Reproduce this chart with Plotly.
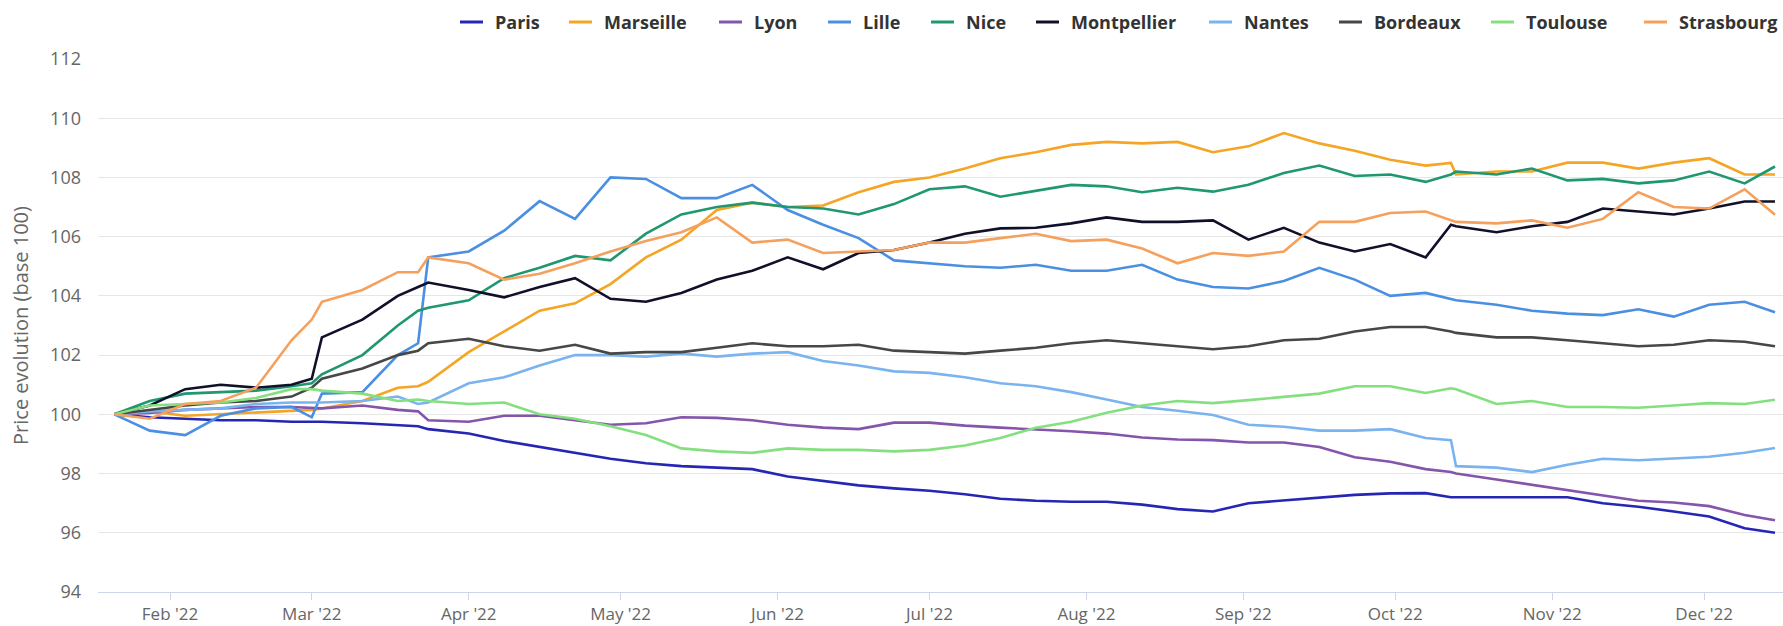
import plotly.graph_objects as go

dates = [
    "2022-01-21", "2022-01-28",
    "2022-02-04", "2022-02-11", "2022-02-18", "2022-02-25",
    "2022-03-01", "2022-03-03", "2022-03-11", "2022-03-18", "2022-03-22", "2022-03-24",
    "2022-04-01", "2022-04-08", "2022-04-15", "2022-04-22", "2022-04-29",
    "2022-05-06", "2022-05-13", "2022-05-20", "2022-05-27",
    "2022-06-03", "2022-06-10", "2022-06-17", "2022-06-24",
    "2022-07-01", "2022-07-08", "2022-07-15", "2022-07-22", "2022-07-29",
    "2022-08-05", "2022-08-12", "2022-08-19", "2022-08-26",
    "2022-09-02", "2022-09-09", "2022-09-16", "2022-09-23", "2022-09-30",
    "2022-10-07", "2022-10-12", "2022-10-13", "2022-10-21", "2022-10-28",
    "2022-11-04", "2022-11-11", "2022-11-18", "2022-11-25",
    "2022-12-02", "2022-12-09", "2022-12-15",
]

paris = [100.0, 99.9, 99.85, 99.8, 99.8, 99.75,
         99.75, 99.75, 99.7, 99.65, 99.6, 99.5,
         99.35, 99.1, 98.9, 98.7, 98.5, 98.35, 98.25, 98.2, 98.15,
         97.9, 97.75, 97.6, 97.5, 97.42, 97.3, 97.15, 97.08, 97.05,
         97.05, 96.95, 96.8, 96.72, 97.0, 97.1, 97.2, 97.28, 97.33,
         97.34, 97.2, 97.2, 97.22, 97.22, 97.2, 97.0, 96.88, 96.72, 96.55, 96.15, 96.0]
marseille = [100.0, 100.1, 99.95, 100.0, 100.05, 100.1,
             100.15, 100.2, 100.45, 100.9, 100.95, 101.1,
             102.1, 102.8, 103.5, 103.75, 104.4, 105.3, 105.9, 106.9, 107.15,
             107.0, 107.05, 107.5, 107.85, 108.0, 108.3, 108.65, 108.85, 109.1,
             109.2, 109.15, 109.2, 108.85, 109.05, 109.5, 109.15, 108.9, 108.6,
             108.4, 108.49, 108.1, 108.2, 108.2, 108.5, 108.5, 108.3, 108.5, 108.65, 108.1, 108.1]
lyon = [100.0, 100.05, 100.15, 100.2, 100.25, 100.25,
        100.2, 100.2, 100.3, 100.15, 100.1, 99.8,
        99.75, 99.95, 99.95, 99.8, 99.65, 99.7, 99.9, 99.88, 99.8,
        99.65, 99.55, 99.5, 99.72, 99.72, 99.62, 99.55, 99.5, 99.43,
        99.35, 99.22, 99.15, 99.13, 99.05, 99.05, 98.9, 98.55, 98.4,
        98.15, 98.05, 98.0, 97.8, 97.62, 97.45, 97.25, 97.08, 97.02, 96.9, 96.6, 96.42]
lille = [100.0, 99.45, 99.3, 99.95, 100.2, 100.25,
         99.9, 100.7, 100.75, 102.0, 102.4, 105.3,
         105.5, 106.2, 107.2, 106.6, 108.0, 107.95, 107.3, 107.3, 107.75,
         106.9, 106.4, 105.95, 105.2, 105.1, 105.0, 104.95, 105.05, 104.85,
         104.85, 105.05, 104.55, 104.3, 104.25, 104.5, 104.95, 104.55, 104.0,
         104.1, 103.9, 103.85, 103.7, 103.5, 103.4, 103.35, 103.55, 103.3, 103.7, 103.8, 103.45]
nice = [100.0, 100.45, 100.7, 100.75, 100.8, 100.95,
        101.05, 101.35, 102.0, 103.0, 103.5, 103.6,
        103.85, 104.6, 104.95, 105.35, 105.2, 106.1, 106.75, 107.0, 107.15,
        107.0, 106.95, 106.75, 107.1, 107.6, 107.7, 107.35, 107.55, 107.75,
        107.7, 107.5, 107.65, 107.52, 107.75, 108.15, 108.4, 108.05, 108.1,
        107.85, 108.1, 108.2, 108.1, 108.3, 107.9, 107.95, 107.8, 107.9, 108.2, 107.8, 108.37]
montpellier = [100.0, 100.3, 100.85, 101.0, 100.9, 101.0,
               101.2, 102.6, 103.2, 104.0, 104.3, 104.45,
               104.2, 103.95, 104.3, 104.6, 103.9, 103.8, 104.1, 104.55, 104.85,
               105.3, 104.9, 105.45, 105.55, 105.8, 106.1, 106.28, 106.3, 106.45,
               106.65, 106.5, 106.5, 106.55, 105.9, 106.3, 105.8, 105.5, 105.75,
               105.3, 106.4, 106.35, 106.15, 106.35, 106.5, 106.95, 106.85, 106.75, 106.95, 107.19, 107.19]
nantes = [100.0, 100.1, 100.15, 100.2, 100.35, 100.4,
          100.4, 100.4, 100.45, 100.6, 100.35, 100.4,
          101.05, 101.25, 101.65, 102.0, 102.0, 101.95, 102.05, 101.95, 102.05,
          102.1, 101.8, 101.65, 101.45, 101.4, 101.25, 101.05, 100.95, 100.75,
          100.5, 100.25, 100.12, 99.98, 99.65, 99.58, 99.45, 99.45, 99.5,
          99.2, 99.13, 98.25, 98.2, 98.05, 98.3, 98.5, 98.45, 98.5, 98.57, 98.7, 98.86]
bordeaux = [100.0, 100.15, 100.3, 100.4, 100.45, 100.6,
            100.9, 101.2, 101.55, 102.0, 102.15, 102.4,
            102.55, 102.3, 102.15, 102.35, 102.05, 102.1, 102.1, 102.25, 102.4,
            102.3, 102.3, 102.35, 102.15, 102.1, 102.05, 102.15, 102.25, 102.4,
            102.5, 102.4, 102.3, 102.2, 102.3, 102.5, 102.55, 102.8, 102.95,
            102.95, 102.8, 102.75, 102.6, 102.6, 102.5, 102.4, 102.3, 102.35, 102.5, 102.45, 102.3]
toulouse = [100.0, 100.3, 100.35, 100.4, 100.55, 100.85,
            100.85, 100.8, 100.7, 100.45, 100.5, 100.45,
            100.35, 100.4, 100.0, 99.85, 99.6, 99.3, 98.85, 98.75, 98.7,
            98.85, 98.8, 98.8, 98.75, 98.8, 98.95, 99.2, 99.55, 99.75,
            100.05, 100.3, 100.45, 100.38, 100.48, 100.6, 100.7, 100.95, 100.95,
            100.72, 100.88, 100.85, 100.35, 100.45, 100.25, 100.25, 100.22, 100.3, 100.38, 100.35, 100.49]
strasbourg = [100.0, 99.85, 100.35, 100.45, 100.9, 102.5,
              103.2, 103.8, 104.2, 104.8, 104.8, 105.3,
              105.1, 104.55, 104.75, 105.1, 105.5, 105.85, 106.15, 106.65, 105.8,
              105.9, 105.45, 105.5, 105.55, 105.8, 105.8, 105.95, 106.1, 105.85,
              105.9, 105.6, 105.1, 105.45, 105.35, 105.5, 106.5, 106.5, 106.8,
              106.85, 106.55, 106.5, 106.45, 106.55, 106.3, 106.6, 107.5, 107.0, 106.95, 107.6, 106.74]

city_names = ["Paris", "Marseille", "Lyon", "Lille", "Nice", "Montpellier",
              "Nantes", "Bordeaux", "Toulouse", "Strasbourg"]
city_values = [paris, marseille, lyon, lille, nice, montpellier,
               nantes, bordeaux, toulouse, strasbourg]
city_colors = ["#2626b4", "#f5a524", "#8455ab", "#4b8fe2", "#1f9770", "#10102a",
               "#7ab3ee", "#474747", "#84e07f", "#f5a05c"]

tick_dates = ["2022-02-01", "2022-03-01", "2022-04-01", "2022-05-01", "2022-06-01",
              "2022-07-01", "2022-08-01", "2022-09-01", "2022-10-01", "2022-11-01",
              "2022-12-01"]
y_ticks = [94, 96, 98, 100, 102, 104, 106, 108, 110, 112]

# layout geometry (pixels)
W, H = 1783, 626
ML, MR, MT, MB = 98, 0, 59, 34
PW, PH = W - ML - MR, H - MT - MB
legend_symbol_px = [460, 569, 719, 828, 931, 1036, 1209, 1339, 1491, 1644]
legend_y_px = 22

FONT = "Open Sans"


def px_to_paper_x(px):
    return (px - ML) / PW


def px_to_paper_y(py):
    return (H - MB - py) / PH


fig = go.Figure()
for name, vals, col in zip(city_names, city_values, city_colors):
    fig.add_trace(go.Scatter(
        x=dates, y=vals, name=name, mode="lines",
        line=dict(color=col, width=2.6), showlegend=False,
    ))

# legend drawn as line samples + bold labels
shapes, annots = [], []
ly = px_to_paper_y(legend_y_px)
for name, col, sx in zip(city_names, city_colors, legend_symbol_px):
    shapes.append(dict(type="line", xref="paper", yref="paper",
                       x0=px_to_paper_x(sx), x1=px_to_paper_x(sx + 23),
                       y0=ly, y1=ly, line=dict(color=col, width=3)))
    annots.append(dict(xref="paper", yref="paper", x=px_to_paper_x(sx + 33), y=ly,
                       xanchor="left", yanchor="middle", showarrow=False,
                       text="<b>%s</b>" % name,
                       font=dict(family=FONT, size=18, color="#333333")))

fig.update_layout(
    width=W, height=H,
    margin=dict(l=ML, r=MR, t=MT, b=MB, autoexpand=False),
    paper_bgcolor="white", plot_bgcolor="white",
    font=dict(family=FONT, size=18, color="#666666"),
    showlegend=False,
    shapes=shapes, annotations=annots,
    xaxis=dict(
        type="date",
        range=["2022-01-17 18:43", "2022-12-16 14:00"],
        tickvals=tick_dates, tickformat="%b '%y",
        ticks="outside", ticklen=7, tickwidth=1, tickcolor="#ccd6eb",
        showline=True, linecolor="#ccd6eb", linewidth=1,
        showgrid=False, zeroline=False,
        tickfont=dict(family=FONT, size=17, color="#666666"),
        automargin=False,
    ),
    yaxis=dict(
        range=[94, 112], tickvals=y_ticks,
        showgrid=True, gridcolor="#e6e6e6", gridwidth=1,
        zeroline=False, showline=False, ticks="",
        ticklabelstandoff=16,
        tickfont=dict(family=FONT, size=18, color="#666666"),
        title=dict(text="Price evolution (base 100)",
                   font=dict(family=FONT, size=20, color="#666666"), standoff=16),
        automargin=False,
    ),
    hovermode="x",
)

fig.write_html("out.html", config={"displayModeBar": False},
               post_script="document.body.style.margin='0';")
